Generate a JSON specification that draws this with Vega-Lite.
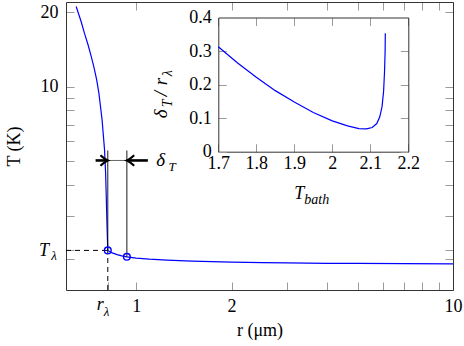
{
  "$schema": "https://vega.github.io/schema/vega-lite/v6.json",
  "width": 387,
  "height": 288,
  "autosize": {"type": "none"},
  "padding": {"left": 66, "top": 2, "right": 11, "bottom": 56},
  "background": "white",
  "config": {
    "view": {"stroke": null},
    "font": "Liberation Serif",
    "axis": {
      "grid": false,
      "labelFont": "Liberation Serif",
      "titleFont": "Liberation Serif",
      "labelFontSize": 18,
      "titleFontSize": 18,
      "titleFontWeight": "normal",
      "labelColor": "black",
      "titleColor": "black",
      "domainColor": "#333333",
      "domainWidth": 1,
      "tickColor": "#9a9a9a",
      "tickWidth": 1,
      "tickSize": -8,
      "labelFlush": false,
      "labelOverlap": false
    },
    "text": {"font": "Liberation Serif", "fontSize": 18, "fontStyle": "italic", "color": "black", "baseline": "alphabetic"}
  },
  "datasets": {
    "profile": [
      {"r": 0.646, "T": 21.1}, {"r": 0.67, "T": 18.3}, {"r": 0.686, "T": 16.45}, {"r": 0.705, "T": 14.7},
      {"r": 0.721, "T": 13.23}, {"r": 0.736, "T": 11.9}, {"r": 0.75, "T": 10.64}, {"r": 0.762, "T": 9.4},
      {"r": 0.771, "T": 8.3}, {"r": 0.78, "T": 7.33}, {"r": 0.786, "T": 6.5}, {"r": 0.794, "T": 5.54},
      {"r": 0.8, "T": 4.5}, {"r": 0.804, "T": 3.59}, {"r": 0.808, "T": 2.8}, {"r": 0.811, "T": 2.4},
      {"r": 0.813, "T": 2.17}, {"r": 0.84, "T": 2.12}, {"r": 0.87, "T": 2.085}, {"r": 0.9, "T": 2.062},
      {"r": 0.934, "T": 2.044}, {"r": 1.0, "T": 2.02}, {"r": 1.1, "T": 2.0}, {"r": 1.25, "T": 1.982},
      {"r": 1.5, "T": 1.962}, {"r": 2.0, "T": 1.945}, {"r": 2.5, "T": 1.935}, {"r": 3, "T": 1.93},
      {"r": 4, "T": 1.924}, {"r": 5, "T": 1.921}, {"r": 7, "T": 1.918}, {"r": 10, "T": 1.915}
    ],
    "inset": [
      {"Tb": 1.70, "d": 0.313}, {"Tb": 1.75, "d": 0.265}, {"Tb": 1.80, "d": 0.222}, {"Tb": 1.85, "d": 0.182},
      {"Tb": 1.90, "d": 0.148}, {"Tb": 1.95, "d": 0.117}, {"Tb": 2.00, "d": 0.092}, {"Tb": 2.04, "d": 0.077},
      {"Tb": 2.07, "d": 0.069}, {"Tb": 2.09, "d": 0.068}, {"Tb": 2.105, "d": 0.072}, {"Tb": 2.117, "d": 0.084},
      {"Tb": 2.125, "d": 0.104}, {"Tb": 2.131, "d": 0.135}, {"Tb": 2.135, "d": 0.18}, {"Tb": 2.1375, "d": 0.24},
      {"Tb": 2.139, "d": 0.3}, {"Tb": 2.1395, "d": 0.353}
    ]
  },
  "layer": [
    {
      "layer": [
        {
          "data": {"name": "profile"},
          "mark": {"type": "line", "color": "#0000ff", "strokeWidth": 1.2},
          "encoding": {
            "x": {"field": "r", "type": "quantitative", "scale": {"type": "log", "domain": [0.6, 10], "nice": false},
              "axis": {"orient": "bottom", "values": [0.813, 1, 2, 3, 4, 5, 6, 7, 8, 9, 10],
                "labelExpr": "datum.value == 1 ? '1' : datum.value == 2 ? '2' : datum.value == 10 ? '10' : ''",
                "labelPadding": 15, "title": "r (μm)", "titlePadding": 6}},
            "y": {"field": "T", "type": "quantitative", "scale": {"type": "log", "domain": [1.5, 22], "nice": false},
              "axis": {"orient": "left", "values": [2, 2.17, 3, 4, 5, 6, 7, 8, 9, 10, 20],
                "labelExpr": "datum.value == 10 ? '10' : datum.value == 20 ? '20' : ''",
                "labelPadding": 16, "title": "T (K)", "titlePadding": 17}}
          }
        },
        {
          "data": {"values": [{"r1": 0.6, "r2": 0.813, "T": 2.17}]},
          "mark": {"type": "rule", "strokeDash": [5, 4], "color": "black", "strokeWidth": 1},
          "encoding": {
            "x": {"field": "r1", "type": "quantitative", "scale": {"type": "log", "domain": [0.6, 10], "nice": false},
              "axis": {"orient": "top", "values": [1, 2, 3, 4, 5, 6, 7, 8, 9, 10], "labels": false, "title": null}},
            "x2": {"field": "r2"},
            "y": {"field": "T", "type": "quantitative", "scale": {"type": "log", "domain": [1.5, 22], "nice": false},
              "axis": {"orient": "right", "values": [2, 2.17, 3, 4, 5, 6, 7, 8, 9, 10, 20], "labels": false, "title": null}}
          }
        },
        {
          "data": {"values": [{"r": 0.813, "T1": 1.5, "T2": 2.17}]},
          "mark": {"type": "rule", "strokeDash": [5, 4], "color": "black", "strokeWidth": 1},
          "encoding": {
            "x": {"field": "r", "type": "quantitative", "scale": {"type": "log", "domain": [0.6, 10], "nice": false}, "axis": null},
            "y": {"field": "T1", "type": "quantitative", "scale": {"type": "log", "domain": [1.5, 22], "nice": false}, "axis": null},
            "y2": {"field": "T2"}
          }
        },
        {
          "data": {"values": [{"r": 0.813, "T1": 2.17, "T2": 5.51}, {"r": 0.934, "T1": 2.044, "T2": 5.51}]},
          "mark": {"type": "rule", "color": "black", "strokeWidth": 0.9},
          "encoding": {
            "x": {"field": "r", "type": "quantitative", "scale": {"type": "log", "domain": [0.6, 10], "nice": false}, "axis": null},
            "y": {"field": "T1", "type": "quantitative", "scale": {"type": "log", "domain": [1.5, 22], "nice": false}, "axis": null},
            "y2": {"field": "T2"}
          }
        },
        {
          "data": {"values": [{"r1": 0.813, "r2": 0.934, "T": 5.02}]},
          "mark": {"type": "rule", "color": "#555555", "strokeWidth": 0.9},
          "encoding": {
            "x": {"field": "r1", "type": "quantitative", "scale": {"type": "log", "domain": [0.6, 10], "nice": false}, "axis": null},
            "x2": {"field": "r2"},
            "y": {"field": "T", "type": "quantitative", "scale": {"type": "log", "domain": [1.5, 22], "nice": false}, "axis": null}
          }
        },
        {
          "data": {"values": [{"r1": 0.744, "r2": 0.809, "T": 5.02}, {"r1": 0.938, "r2": 1.088, "T": 5.02}]},
          "mark": {"type": "rule", "color": "black", "strokeWidth": 2.6},
          "encoding": {
            "x": {"field": "r1", "type": "quantitative", "scale": {"type": "log", "domain": [0.6, 10], "nice": false}, "axis": null},
            "x2": {"field": "r2"},
            "y": {"field": "T", "type": "quantitative", "scale": {"type": "log", "domain": [1.5, 22], "nice": false}, "axis": null}
          }
        },
        {
          "data": {"values": [{"r": 0.813, "T": 5.02}]},
          "mark": {"type": "point", "shape": "M-1.4,-1 Q-0.5,-0.2 0,0 Q-0.5,0.2 -1.4,1", "filled": false, "stroke": "black", "strokeWidth": 2.2, "size": 110, "opacity": 1},
          "encoding": {
            "x": {"field": "r", "type": "quantitative", "scale": {"type": "log", "domain": [0.6, 10], "nice": false}, "axis": null},
            "y": {"field": "T", "type": "quantitative", "scale": {"type": "log", "domain": [1.5, 22], "nice": false}, "axis": null}
          }
        },
        {
          "data": {"values": [{"r": 0.934, "T": 5.02}]},
          "mark": {"type": "point", "shape": "M1.4,-1 Q0.5,-0.2 0,0 Q0.5,0.2 1.4,1", "filled": false, "stroke": "black", "strokeWidth": 2.2, "size": 110, "opacity": 1},
          "encoding": {
            "x": {"field": "r", "type": "quantitative", "scale": {"type": "log", "domain": [0.6, 10], "nice": false}, "axis": null},
            "y": {"field": "T", "type": "quantitative", "scale": {"type": "log", "domain": [1.5, 22], "nice": false}, "axis": null}
          }
        },
        {
          "data": {"values": [{"r": 0.813, "T": 2.17}, {"r": 0.934, "T": 2.044}]},
          "mark": {"type": "point", "filled": false, "stroke": "#0000ff", "strokeWidth": 1.4, "size": 45, "opacity": 1},
          "encoding": {
            "x": {"field": "r", "type": "quantitative", "scale": {"type": "log", "domain": [0.6, 10], "nice": false}, "axis": null},
            "y": {"field": "T", "type": "quantitative", "scale": {"type": "log", "domain": [1.5, 22], "nice": false}, "axis": null}
          }
        },
        {
          "data": {"values": [{"r": 1.157, "T": 5.02, "s": "δ"}]},
          "mark": {"type": "text", "align": "left", "dy": 6, "fontSize": 19},
          "encoding": {
            "x": {"field": "r", "type": "quantitative", "scale": {"type": "log", "domain": [0.6, 10], "nice": false}, "axis": null},
            "y": {"field": "T", "type": "quantitative", "scale": {"type": "log", "domain": [1.5, 22], "nice": false}, "axis": null},
            "text": {"field": "s"}
          }
        },
        {
          "data": {"values": [{"r": 1.265, "T": 5.02, "s": "T"}]},
          "mark": {"type": "text", "align": "left", "dy": 11, "fontSize": 13},
          "encoding": {
            "x": {"field": "r", "type": "quantitative", "scale": {"type": "log", "domain": [0.6, 10], "nice": false}, "axis": null},
            "y": {"field": "T", "type": "quantitative", "scale": {"type": "log", "domain": [1.5, 22], "nice": false}, "axis": null},
            "text": {"field": "s"}
          }
        },
        {
          "data": {"values": [{"r": 0.6, "T": 2.17, "s": "T"}]},
          "mark": {"type": "text", "align": "right", "dx": -17, "dy": 6, "fontSize": 18},
          "encoding": {
            "x": {"field": "r", "type": "quantitative", "scale": {"type": "log", "domain": [0.6, 10], "nice": false}, "axis": null},
            "y": {"field": "T", "type": "quantitative", "scale": {"type": "log", "domain": [1.5, 22], "nice": false}, "axis": null},
            "text": {"field": "s"}
          }
        },
        {
          "data": {"values": [{"r": 0.6, "T": 2.17, "s": "λ"}]},
          "mark": {"type": "text", "align": "right", "dx": -9, "dy": 9.5, "fontSize": 13},
          "encoding": {
            "x": {"field": "r", "type": "quantitative", "scale": {"type": "log", "domain": [0.6, 10], "nice": false}, "axis": null},
            "y": {"field": "T", "type": "quantitative", "scale": {"type": "log", "domain": [1.5, 22], "nice": false}, "axis": null},
            "text": {"field": "s"}
          }
        },
        {
          "data": {"values": [{"r": 0.813, "T": 1.5, "s": "r"}]},
          "mark": {"type": "text", "align": "right", "dx": -4, "dy": 20, "fontSize": 18},
          "encoding": {
            "x": {"field": "r", "type": "quantitative", "scale": {"type": "log", "domain": [0.6, 10], "nice": false}, "axis": null},
            "y": {"field": "T", "type": "quantitative", "scale": {"type": "log", "domain": [1.5, 22], "nice": false}, "axis": null},
            "text": {"field": "s"}
          }
        },
        {
          "data": {"values": [{"r": 0.813, "T": 1.5, "s": "λ"}]},
          "mark": {"type": "text", "align": "left", "dx": -4, "dy": 26, "fontSize": 13},
          "encoding": {
            "x": {"field": "r", "type": "quantitative", "scale": {"type": "log", "domain": [0.6, 10], "nice": false}, "axis": null},
            "y": {"field": "T", "type": "quantitative", "scale": {"type": "log", "domain": [1.5, 22], "nice": false}, "axis": null},
            "text": {"field": "s"}
          }
        }
      ],
      "resolve": {"axis": {"x": "independent", "y": "independent"}}
    },
    {
      "layer": [
        {
          "data": {"name": "inset"},
          "mark": {"type": "line", "color": "#0000ff", "strokeWidth": 1.2},
          "encoding": {
            "x": {"field": "Tb", "type": "quantitative", "scale": {"domain": [1.7, 2.2], "range": [152.3, 342.3], "nice": false, "zero": false},
              "axis": {"orient": "bottom", "offset": -138.3, "values": [1.7, 1.8, 1.9, 2.0, 2.1, 2.2], "format": ".1~f", "labelPadding": 11, "title": null}},
            "y": {"field": "d", "type": "quantitative", "scale": {"domain": [0, 0.4], "range": [149.7, 15.5], "nice": false, "zero": false},
              "axis": {"orient": "left", "offset": -152.3, "values": [0, 0.1, 0.2, 0.3, 0.4], "format": ".1~f", "labelPadding": 15, "title": null}}
          }
        },
        {
          "data": {"name": "inset"},
          "mark": {"type": "line", "opacity": 0},
          "encoding": {
            "x": {"field": "Tb", "type": "quantitative", "scale": {"domain": [1.7, 2.2], "range": [152.3, 342.3], "nice": false, "zero": false},
              "axis": {"orient": "top", "offset": -15.5, "values": [1.7, 1.8, 1.9, 2.0, 2.1, 2.2], "labels": false, "title": null}},
            "y": {"field": "d", "type": "quantitative", "scale": {"domain": [0, 0.4], "range": [149.7, 15.5], "nice": false, "zero": false},
              "axis": {"orient": "right", "offset": -44.7, "values": [0, 0.1, 0.2, 0.3, 0.4], "labels": false, "title": null}}
          }
        },
        {
          "data": {"values": [{"Tb": 1.95, "d": 0, "s": "T"}]},
          "mark": {"type": "text", "align": "right", "dx": -9, "dy": 47.5, "fontSize": 18},
          "encoding": {
            "x": {"field": "Tb", "type": "quantitative", "scale": {"domain": [1.7, 2.2], "range": [152.3, 342.3], "nice": false, "zero": false}, "axis": null},
            "y": {"field": "d", "type": "quantitative", "scale": {"domain": [0, 0.4], "range": [149.7, 15.5], "nice": false, "zero": false}, "axis": null},
            "text": {"field": "s"}
          }
        },
        {
          "data": {"values": [{"Tb": 1.95, "d": 0, "s": "bath"}]},
          "mark": {"type": "text", "align": "left", "dx": -9, "dy": 52, "fontSize": 14},
          "encoding": {
            "x": {"field": "Tb", "type": "quantitative", "scale": {"domain": [1.7, 2.2], "range": [152.3, 342.3], "nice": false, "zero": false}, "axis": null},
            "y": {"field": "d", "type": "quantitative", "scale": {"domain": [0, 0.4], "range": [149.7, 15.5], "nice": false, "zero": false}, "axis": null},
            "text": {"field": "s"}
          }
        },
        {
          "data": {"values": [{"Tb": 1.7, "d": 0.1, "s": "δ"}]},
          "mark": {"type": "text", "align": "left", "angle": 270, "dx": 0, "dy": -51, "fontSize": 19},
          "encoding": {
            "x": {"field": "Tb", "type": "quantitative", "scale": {"domain": [1.7, 2.2], "range": [152.3, 342.3], "nice": false, "zero": false}, "axis": null},
            "y": {"field": "d", "type": "quantitative", "scale": {"domain": [0, 0.4], "range": [149.7, 15.5], "nice": false, "zero": false}, "axis": null},
            "text": {"field": "s"}
          }
        },
        {
          "data": {"values": [{"Tb": 1.7, "d": 0.1, "s": "T"}]},
          "mark": {"type": "text", "align": "left", "angle": 270, "dx": 11, "dy": -46, "fontSize": 14},
          "encoding": {
            "x": {"field": "Tb", "type": "quantitative", "scale": {"domain": [1.7, 2.2], "range": [152.3, 342.3], "nice": false, "zero": false}, "axis": null},
            "y": {"field": "d", "type": "quantitative", "scale": {"domain": [0, 0.4], "range": [149.7, 15.5], "nice": false, "zero": false}, "axis": null},
            "text": {"field": "s"}
          }
        },
        {
          "data": {"values": [{"Tb": 1.7, "d": 0.1, "s": "/"}]},
          "mark": {"type": "text", "align": "left", "angle": 270, "dx": 22, "dy": -51, "fontSize": 19},
          "encoding": {
            "x": {"field": "Tb", "type": "quantitative", "scale": {"domain": [1.7, 2.2], "range": [152.3, 342.3], "nice": false, "zero": false}, "axis": null},
            "y": {"field": "d", "type": "quantitative", "scale": {"domain": [0, 0.4], "range": [149.7, 15.5], "nice": false, "zero": false}, "axis": null},
            "text": {"field": "s"}
          }
        },
        {
          "data": {"values": [{"Tb": 1.7, "d": 0.1, "s": "r"}]},
          "mark": {"type": "text", "align": "left", "angle": 270, "dx": 33, "dy": -51, "fontSize": 19},
          "encoding": {
            "x": {"field": "Tb", "type": "quantitative", "scale": {"domain": [1.7, 2.2], "range": [152.3, 342.3], "nice": false, "zero": false}, "axis": null},
            "y": {"field": "d", "type": "quantitative", "scale": {"domain": [0, 0.4], "range": [149.7, 15.5], "nice": false, "zero": false}, "axis": null},
            "text": {"field": "s"}
          }
        },
        {
          "data": {"values": [{"Tb": 1.7, "d": 0.1, "s": "λ"}]},
          "mark": {"type": "text", "align": "left", "angle": 270, "dx": 42, "dy": -46, "fontSize": 14},
          "encoding": {
            "x": {"field": "Tb", "type": "quantitative", "scale": {"domain": [1.7, 2.2], "range": [152.3, 342.3], "nice": false, "zero": false}, "axis": null},
            "y": {"field": "d", "type": "quantitative", "scale": {"domain": [0, 0.4], "range": [149.7, 15.5], "nice": false, "zero": false}, "axis": null},
            "text": {"field": "s"}
          }
        }
      ],
      "resolve": {"axis": {"x": "independent", "y": "independent"}}
    }
  ],
  "resolve": {"scale": {"x": "independent", "y": "independent"}}
}
